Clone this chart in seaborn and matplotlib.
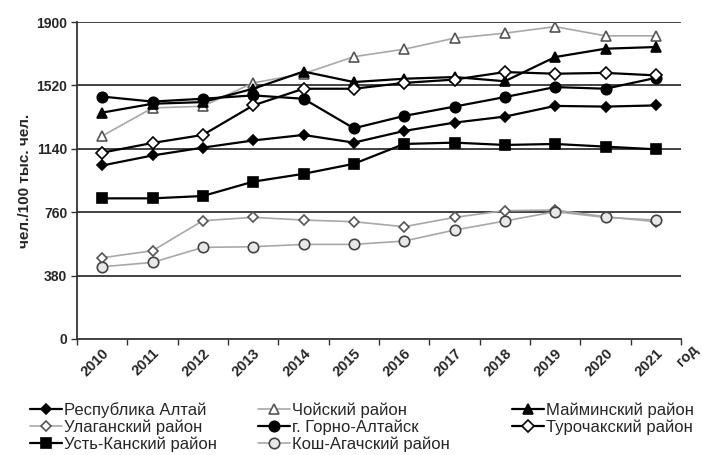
import matplotlib
matplotlib.use('Agg')
import matplotlib.pyplot as plt
import numpy as np
import pandas as pd
import seaborn as sns
from matplotlib.ticker import FixedLocator

years = [2010, 2011, 2012, 2013, 2014, 2015, 2016, 2017, 2018, 2019, 2020, 2021]

# values, чел./100 тыс. чел.
respublika = [1040, 1100, 1147, 1190, 1223, 1177, 1247, 1297, 1333, 1397, 1393, 1400]
choysky = [1217, 1385, 1395, 1535, 1590, 1692, 1737, 1803, 1833, 1872, 1817, 1817]
maiminsky = [1357, 1410, 1420, 1500, 1603, 1540, 1560, 1570, 1545, 1690, 1740, 1750]
ulagansky = [487, 529, 709, 729, 713, 703, 673, 729, 769, 773, 733, 703]
gorno = [1453, 1423, 1440, 1460, 1440, 1263, 1337, 1393, 1450, 1510, 1500, 1565]
turochak = [1117, 1175, 1223, 1400, 1500, 1500, 1535, 1555, 1600, 1590, 1595, 1580]
ust_kan = [843, 843, 857, 943, 990, 1050, 1169, 1177, 1163, 1169, 1153, 1137]
kosh_agach = [433, 459, 549, 553, 567, 567, 587, 653, 707, 763, 729, 713]

yticks = [0, 380, 760, 1140, 1520, 1900]

series = {
    'Республика Алтай': respublika,
    'Чойский район': choysky,
    'Майминский район': maiminsky,
    'Улаганский район': ulagansky,
    'г. Горно-Алтайск': gorno,
    'Турочакский район': turochak,
    'Усть-Канский район': ust_kan,
    'Кош-Агачский район': kosh_agach,
}

# name: (line colour, marker, face, edge, size)
styles = {
    'Республика Алтай': ('black', 'D', 'black', 'black', 5.5),
    'Чойский район': ('#a8a8a8', '^', 'white', '#555555', 7.5),
    'Майминский район': ('black', '^', 'black', 'black', 7.5),
    'Улаганский район': ('#a8a8a8', 'D', 'white', '#555555', 5.5),
    'г. Горно-Алтайск': ('black', 'o', 'black', 'black', 7.5),
    'Турочакский район': ('black', 'D', 'white', 'black', 6),
    'Усть-Канский район': ('black', 's', 'black', 'black', 7),
    'Кош-Агачский район': ('#a8a8a8', 'o', '#e8e8e8', '#444444', 7.5),
}

rows = []
for name, vals in series.items():
    for y, v in zip(years, vals):
        rows.append({'год': y, 'значение': v, 'район': name})
df = pd.DataFrame(rows)

sns.set_style('white')
plt.rcParams['font.family'] = ['Liberation Sans Narrow', 'Liberation Sans', 'DejaVu Sans']

fig = plt.figure(figsize=(7.02, 4.55), dpi=100)
ax = fig.add_axes([77 / 702, 1 - 339 / 455, (681 - 77) / 702, (339 - 22) / 455])

for t in yticks[1:]:
    ax.axhline(t, color='#333333', lw=1.3, zorder=1)

for name in series:
    col, mk, fc, ec, ms = styles[name]
    lw = 1.6 if col == 'black' else 1.2
    sns.lineplot(data=df[df['район'] == name], x='год', y='значение', ax=ax,
                 color=col, lw=lw, marker=mk, markersize=ms, markerfacecolor=fc,
                 markeredgecolor=ec, markeredgewidth=1.2, label=name, zorder=3)

ax.set_xlim(2009.5, 2021.5)
ax.set_ylim(0, 1900)
ax.set_yticks(yticks)
ax.set_yticklabels([str(t) for t in yticks], fontsize=10, fontweight='bold')
ax.set_xticks(years)
ax.set_xticklabels([str(y) for y in years], fontsize=10.5, fontweight='bold',
                   rotation=45, ha='right', va='top', rotation_mode='anchor')
ax.xaxis.set_minor_locator(FixedLocator(np.arange(2009.5, 2022, 1)))
ax.tick_params(axis='x', which='major', length=0, pad=5)
ax.tick_params(axis='x', which='minor', length=4, width=1, color='#333333', direction='out', bottom=True)
ax.tick_params(axis='y', length=4, width=1, color='#333333', left=True, pad=3)
ax.set_xlabel('')
ax.set_ylabel('чел./100 тыс. чел.', fontsize=11, fontweight='bold', labelpad=3)

for s in ['top', 'right']:
    ax.spines[s].set_visible(False)
for s in ['left', 'bottom']:
    ax.spines[s].set_color('#333333')
    ax.spines[s].set_linewidth(1.3)

ax.text(1.005, -0.095, 'год', transform=ax.transAxes, fontsize=10.5, fontweight='bold',
        rotation=45, ha='left', va='bottom', rotation_mode='anchor')

handles, labels = ax.get_legend_handles_labels()
ax.get_legend().remove()
# one legend per column, rows read left to right as in the source
columns = [[0, 3, 6], [1, 4, 7], [2, 5]]
col_x = [30, 258, 512]
for idx, x0 in zip(columns, col_x):
    fig.legend([handles[i] for i in idx], [labels[i] for i in idx],
               loc='upper left', bbox_to_anchor=(x0 / 702, 1 - 402 / 455), frameon=False,
               fontsize=12, handlelength=1.9, handletextpad=0.15,
               labelspacing=0.1, borderaxespad=0, borderpad=0)

fig.savefig('out.png', dpi=100)
